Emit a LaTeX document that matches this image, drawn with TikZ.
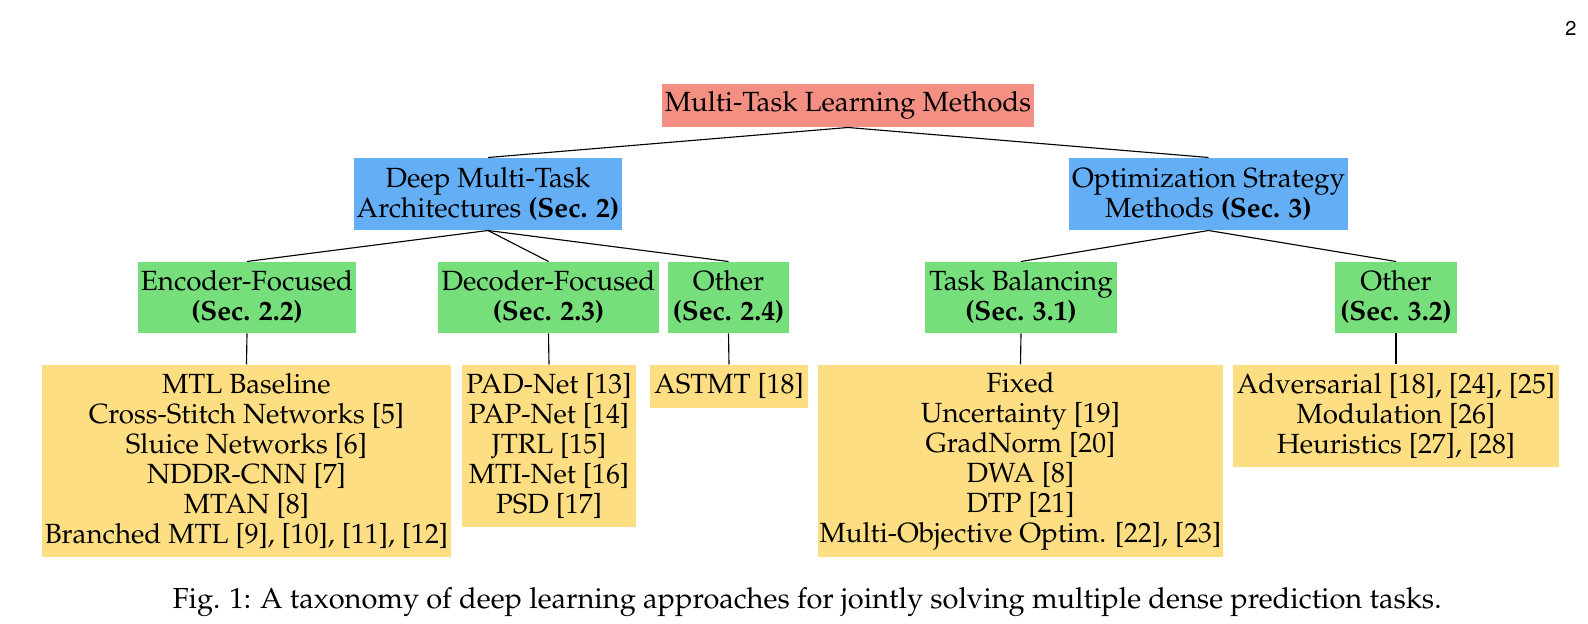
\documentclass[tikz,border=0pt]{standalone}
\usepackage[T1]{fontenc}
\usepackage{mathpazo}
\usetikzlibrary{positioning}
\definecolor{rootred}{HTML}{F48F84}
\definecolor{archblue}{HTML}{63AEF4}
\definecolor{subgreen}{HTML}{77DE7C}
\definecolor{leafyellow}{HTML}{FEDE82}
\tikzset{
  box/.style={
      rectangle,
      inner sep=0pt,
      align=center,
      font=\fontsize{11.1}{12}\selectfont
    },
  root/.style={
      box,
      fill=rootred,
      minimum height=17.2pt
    },
  arch/.style={
      box,
      fill=archblue,
      minimum height=28.8pt
    },
  sub/.style={
      box,
      fill=subgreen,
      minimum height=28.4pt
    },
  leaf/.style={
      box,
      fill=leafyellow
    },
  lnk/.style={
      line width=0.45pt
    }
}

\begin{document}
\begin{tikzpicture}[x=0.4pt, y=-0.4pt]
  \useasboundingbox (0,0) rectangle (1588,624);
  \node[font=\fontfamily{phv}\fontsize{8}{10}\selectfont, anchor=base] (pnum) at (1571,36) {2};
  % top two levels
  \node[root, minimum width=148.8pt] (mtl) at (848,105.5) {Multi-Task Learning Methods};
  \node[arch, minimum width=107.2pt] (arch) at (488,194) {Deep Multi-Task\\Architectures \textbf{(Sec. 2)}};
  \node[arch, minimum width=111.6pt] (optim) at (1208.5,194) {Optimization Strategy\\Methods \textbf{(Sec. 3)}};
  % sections
  \node[sub, minimum width=87.2pt] (enc) at (247,297.5) {Encoder-Focused\\\textbf{(Sec. 2.2)}};
  \node[sub, minimum width=88.4pt] (dec) at (548.5,297.5) {Decoder-Focused\\\textbf{(Sec. 2.3)}};
  \node[sub, minimum width=48.4pt] (otha) at (728.5,297.5) {Other\\\textbf{(Sec. 2.4)}};
  \node[sub, minimum width=76.8pt] (bal) at (1021,297.5) {Task Balancing\\\textbf{(Sec. 3.1)}};
  \node[sub, minimum width=48.8pt] (othb) at (1396,297.5) {Other\\\textbf{(Sec. 3.2)}};
  % methods
  \node[leaf, minimum width=163.6pt, minimum height=76.8pt] (lenc) at (246.5,461) {MTL Baseline\\Cross-Stitch Networks [5]\\Sluice Networks [6]\\NDDR-CNN [7]\\MTAN [8]\\Branched MTL [9], [10], [11], [12]};
  \node[leaf, minimum width=69.6pt, minimum height=64.8pt] (ldec) at (549,446) {PAD-Net [13]\\PAP-Net [14]\\JTRL [15]\\MTI-Net [16]\\PSD [17]};
  \node[leaf, minimum width=63.2pt, minimum height=17.2pt] (lotha) at (729,386.5) {ASTMT [18]};
  \node[leaf, minimum width=162pt, minimum height=76.8pt] (lbal) at (1020.5,461) {Fixed\\Uncertainty [19]\\GradNorm [20]\\DWA [8]\\DTP [21]\\Multi-Objective Optim. [22], [23]};
  \node[leaf, minimum width=130.4pt, minimum height=40.8pt] (lothb) at (1396,416) {Adversarial [18], [24], [25]\\Modulation [26]\\Heuristics [27], [28]};
  \foreach \a/\b in {mtl/arch, mtl/optim, arch/enc, arch/dec, arch/otha, optim/bal, optim/othb,
                     enc/lenc, dec/ldec, otha/lotha, bal/lbal, othb/lothb}
    \draw[lnk] (\a.south) -- (\b.north);
  \node[font=\fontsize{11.6}{14}\selectfont, anchor=base] (cap) at (807,609) {Fig. 1: A taxonomy of deep learning approaches for jointly solving multiple dense prediction tasks.};
\end{tikzpicture}
\end{document}
